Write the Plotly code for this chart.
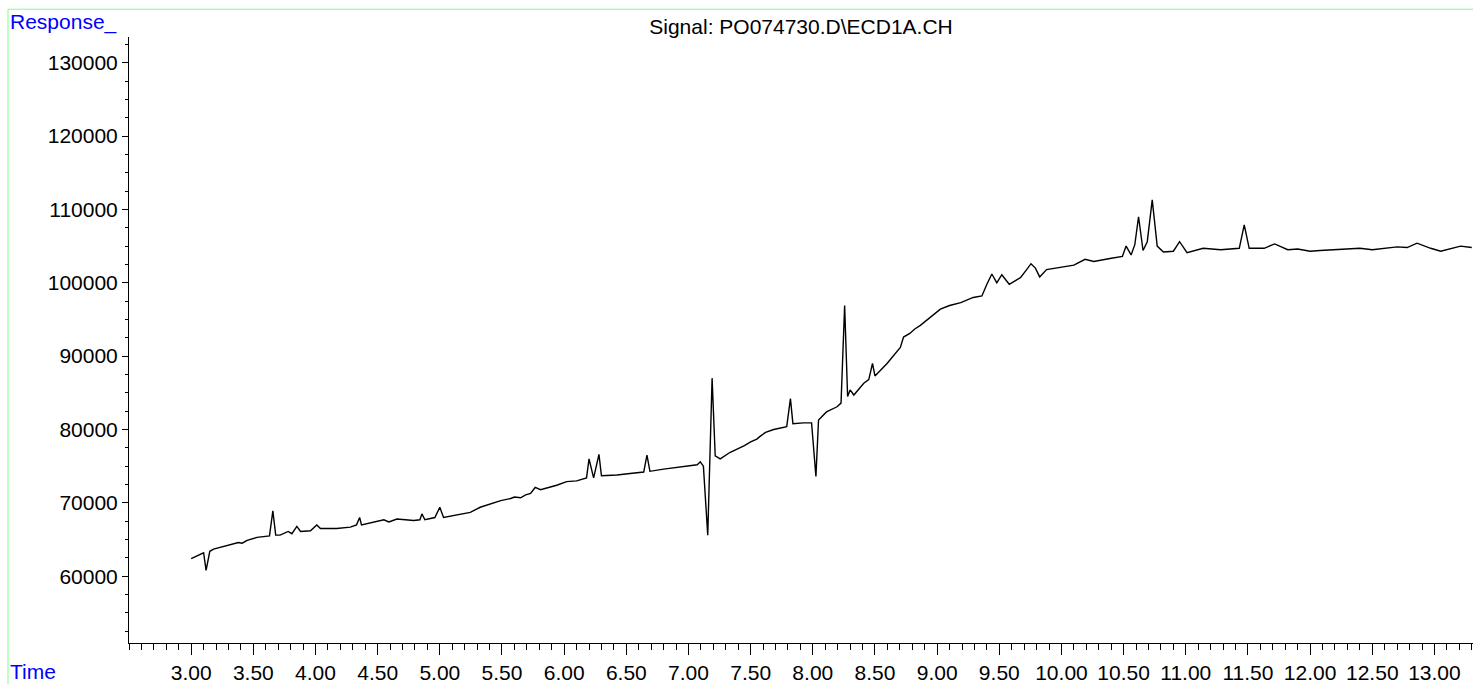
import plotly.graph_objects as go

# retention time (min) and detector response
time_min = [
    3.00, 3.05, 3.10, 3.12, 3.15, 3.18, 3.24, 3.28, 3.31, 3.38,
    3.41, 3.45, 3.53, 3.63, 3.657, 3.68, 3.715, 3.78, 3.81, 3.85,
    3.88, 3.96, 4.01, 4.04, 4.17, 4.28, 4.33, 4.355, 4.37, 4.47,
    4.55, 4.59, 4.655, 4.79, 4.84, 4.856, 4.88, 4.96, 5.00, 5.03,
    5.14, 5.245, 5.325, 5.41, 5.49, 5.57, 5.60, 5.65, 5.69, 5.73,
    5.767, 5.81, 5.94, 6.02, 6.10, 6.18, 6.20, 6.237, 6.28, 6.30,
    6.425, 6.53, 6.64, 6.666, 6.69, 6.80, 6.96, 7.07, 7.095, 7.12,
    7.155, 7.19, 7.215, 7.255, 7.336, 7.417, 7.45, 7.50, 7.55, 7.578,
    7.62, 7.685, 7.72, 7.79, 7.82, 7.84, 7.926, 7.99, 8.025, 8.046,
    8.11, 8.195, 8.227, 8.256, 8.28, 8.30, 8.33, 8.41, 8.45, 8.48,
    8.50, 8.597, 8.704, 8.73, 8.78, 8.82, 8.865, 8.95, 9.026, 9.10,
    9.19, 9.29, 9.36, 9.40, 9.44, 9.48, 9.52, 9.58, 9.67, 9.72,
    9.755, 9.79, 9.825, 9.88, 9.99, 10.10, 10.19, 10.26, 10.39, 10.49,
    10.52, 10.56, 10.59, 10.62, 10.656, 10.69, 10.73, 10.77, 10.82, 10.90,
    10.95, 11.01, 11.14, 11.28, 11.43, 11.47, 11.51, 11.63, 11.715, 11.82,
    11.90, 12.00, 12.08, 12.19, 12.30, 12.40, 12.50, 12.62, 12.70, 12.78,
    12.86, 12.97, 13.05, 13.21, 13.30,
]
response = [
    62400, 62800, 63200, 60800, 63400, 63700, 64000, 64200, 64300, 64600,
    64500, 64900, 65300, 65500, 68900, 65600, 65600, 66100, 65800, 66800,
    66100, 66200, 67000, 66500, 66500, 66700, 67000, 68000, 67000, 67400,
    67700, 67400, 67800, 67600, 67700, 68500, 67700, 68000, 69400, 68000,
    68400, 68700, 69400, 69900, 70300, 70600, 70800, 70700, 71100, 71300,
    72100, 71800, 72400, 72900, 73000, 73400, 76000, 73400, 76600, 73700,
    73800, 74000, 74200, 76500, 74300, 74600, 74900, 75200, 75600, 75000,
    65600, 87000, 76400, 76000, 76900, 77500, 77800, 78300, 78700, 79100,
    79600, 80000, 80100, 80400, 84200, 80800, 80900, 80900, 73600, 81300,
    82400, 83100, 83600, 96900, 84500, 85400, 84700, 86300, 86800, 89000,
    87300, 89000, 91200, 92600, 93100, 93700, 94200, 95300, 96400, 96900,
    97300, 98000, 98200, 99800, 101200, 100000, 101100, 99800, 100700, 101800,
    102600, 102000, 100800, 101800, 102100, 102400, 103200, 102900, 103300, 103600,
    105000, 103800, 105200, 109000, 104400, 105600, 111300, 105000, 104200, 104300,
    105600, 104100, 104700, 104500, 104700, 107900, 104700, 104700, 105300, 104500,
    104600, 104300, 104400, 104500, 104700, 104700, 104500, 104800, 104900, 104800,
    105400, 104700, 104300, 105000, 104800,
]

x_ticks = [3.0 + 0.5 * i for i in range(21)]
x_labels = ["%.2f" % v for v in x_ticks]
y_ticks = [60000, 70000, 80000, 90000, 100000, 110000, 120000, 130000]

FONT = "Arial, Liberation Sans, sans-serif"

fig = go.Figure()
fig.add_trace(go.Scatter(
    x=time_min, y=response, mode="lines",
    line=dict(color="black", width=1.4),
    showlegend=False, hoverinfo="skip",
))

fig.update_layout(
    width=1473, height=684,
    margin=dict(l=129, r=0, t=37, b=36),
    paper_bgcolor="white", plot_bgcolor="white",
    font=dict(family=FONT, size=21, color="black"),
    title=dict(text="Signal: PO074730.D\\ECD1A.CH", x=0.5, xref="paper",
               y=1 - 27 / 684, yref="container", yanchor="middle",
               font=dict(family=FONT, size=21, color="black")),
    xaxis=dict(
        range=[2.5, 13.31], showgrid=False, zeroline=False,
        showline=True, linecolor="black", linewidth=1,
        ticks="outside", ticklen=11, tickcolor="black",
        tickvals=x_ticks, ticktext=x_labels,
        minor=dict(ticks="outside", ticklen=6, dtick=0.1, tick0=2.5, tickcolor="black"),
    ),
    yaxis=dict(
        range=[50900, 133500], showgrid=False, zeroline=False,
        showline=True, linecolor="black", linewidth=1,
        ticks="outside", ticklen=6, tickcolor="black",
        tickvals=y_ticks, tickformat="d",
        minor=dict(ticks="outside", ticklen=3, dtick=2500, tick0=50000, tickcolor="black"),
    ),
)

# green frame round the whole report area
fig.add_shape(type="rect", xref="paper", yref="paper",
              x0=(8 - 129) / 1344, x1=1.05, y0=-0.2, y1=(648 - 9) / 611,
              line=dict(color="#80ff80", width=1), layer="below")

fig.add_annotation(text="Response_", xref="paper", yref="paper",
                   x=(8 - 129) / 1344, y=(648 - 22) / 611,
                   xanchor="left", yanchor="middle", showarrow=False,
                   font=dict(family=FONT, size=21, color="#0000ff"))
fig.add_annotation(text="Time", xref="paper", yref="paper",
                   x=(8 - 129) / 1344, y=(648 - 677) / 611,
                   xanchor="left", yanchor="middle", showarrow=False,
                   font=dict(family=FONT, size=21, color="#0000ff"))

# page body has a default margin; drop it so the figure sits at the window corner
fig.write_html("out.html", config={"displayModeBar": False},
               post_script="document.body.style.margin='0';")
